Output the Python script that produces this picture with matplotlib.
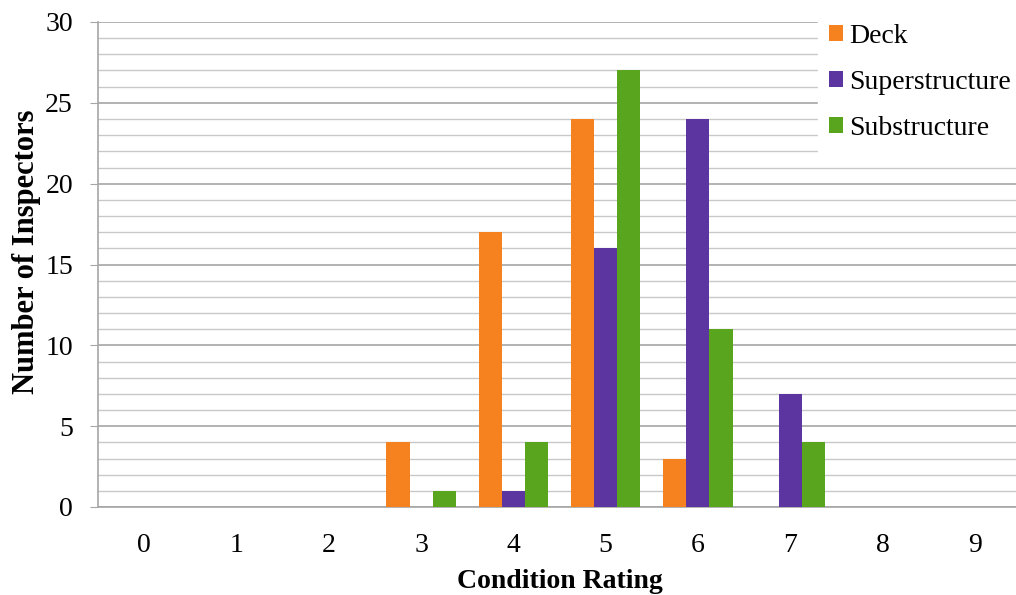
import matplotlib
matplotlib.use("Agg")
import matplotlib.pyplot as plt
import numpy as np
from matplotlib.ticker import MultipleLocator

ratings = [0, 1, 2, 3, 4, 5, 6, 7, 8, 9]
deck = [0, 0, 0, 4, 17, 24, 3, 0, 0, 0]
superstructure = [0, 0, 0, 0, 1, 16, 24, 7, 0, 0]
substructure = [0, 0, 0, 1, 4, 27, 11, 4, 0, 0]
series_names = ["Deck", "Superstructure", "Substructure"]
colors = ["#F5821F", "#5C35A0", "#59A51D"]

plt.rcParams["font.family"] = ["Liberation Serif", "DejaVu Serif"]

fig = plt.figure(figsize=(10.16, 5.95), dpi=100)
ax = fig.add_axes([98 / 1016, 1 - 507 / 595, 923 / 1016, 485 / 595])

x = np.arange(len(ratings))
width = 0.25
for i, (vals, name, c) in enumerate(zip([deck, superstructure, substructure], series_names, colors)):
    ax.bar(x + (i - 1) * width, vals, width, color=c, label=name, zorder=3)

ax.set_xlim(-0.5, 9.5)
ax.set_ylim(0, 30)
ax.yaxis.set_major_locator(MultipleLocator(5))
ax.yaxis.set_minor_locator(MultipleLocator(1))
ax.grid(axis="y", which="major", color="#A6A6A6", linewidth=1.2, zorder=0)
ax.grid(axis="y", which="minor", color="#C8C8C8", linewidth=1.0, zorder=0)
ax.set_axisbelow(True)

for s in ["top", "right"]:
    ax.spines[s].set_visible(False)
ax.spines["left"].set_color("#A6A6A6")
ax.spines["bottom"].set_color("#A6A6A6")
ax.spines["left"].set_linewidth(1.2)
ax.spines["bottom"].set_linewidth(1.2)

ax.set_xticks(x)
ax.set_xticklabels([str(r) for r in ratings])
ax.tick_params(axis="x", length=0, labelsize=20, pad=19)
ax.tick_params(axis="y", which="major", length=6, color="#A6A6A6", labelsize=20, pad=12)
ax.tick_params(axis="y", which="minor", length=0)

ax.set_xlabel("Condition Rating", fontsize=20, fontweight="bold", labelpad=8)
ax.set_ylabel("Number of Inspectors", fontsize=22, fontweight="bold", labelpad=3, y=0.526)

leg = ax.legend(loc="upper left", bbox_to_anchor=(0.7796, 1.0185), frameon=True, fontsize=20,
                handlelength=0.5, handleheight=0.5, handletextpad=0.25, labelspacing=0.75,
                borderaxespad=0, borderpad=0.4, fancybox=False)
leg.get_frame().set_edgecolor("white")
leg.get_frame().set_facecolor("white")
leg.get_frame().set_alpha(1)
leg.set_zorder(5)

fig.savefig("out.png", dpi=100)
